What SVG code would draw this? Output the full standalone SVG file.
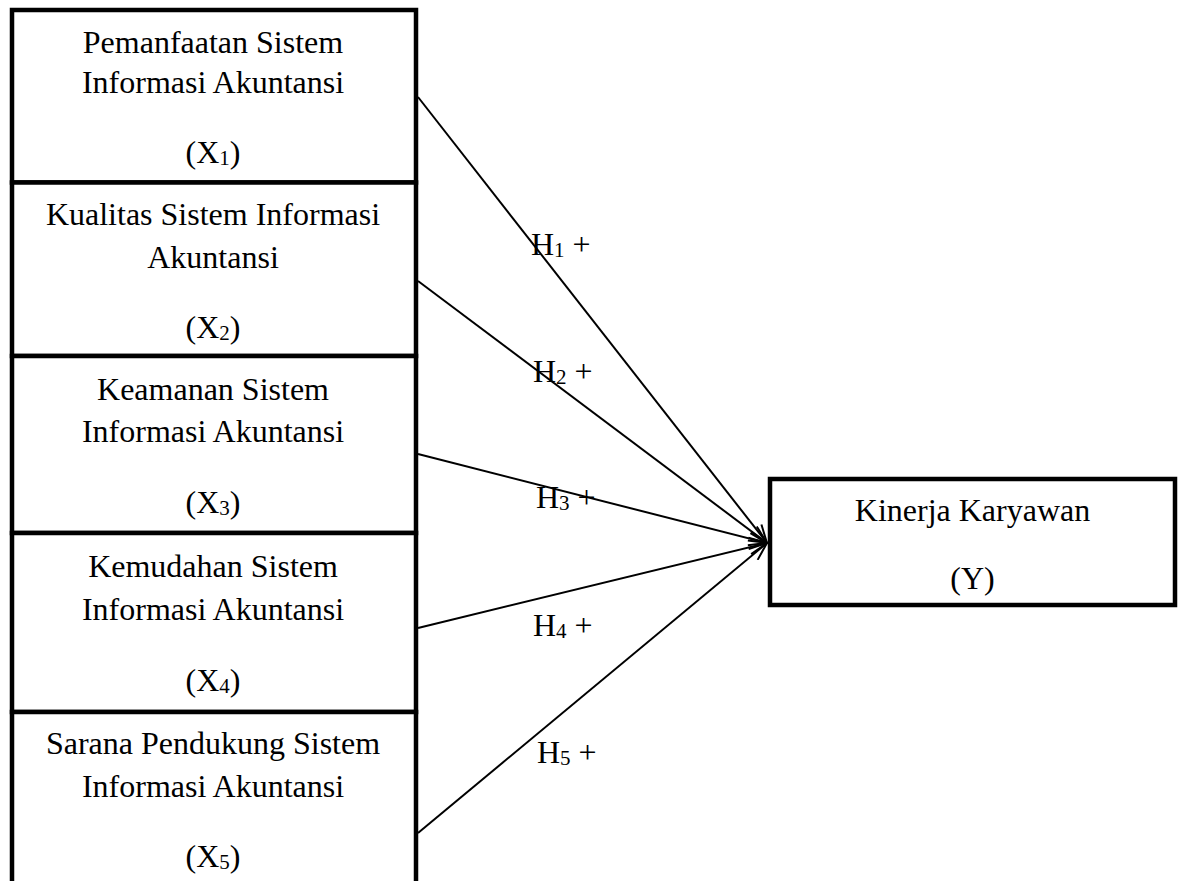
<svg xmlns="http://www.w3.org/2000/svg" width="1178" height="881" viewBox="0 0 1178 881">
  <style>
    .box { fill: #ffffff; stroke: #000000; stroke-width: 4.5; }
    .t { font-family: "Liberation Serif", "Times New Roman", serif; font-size: 32px; fill: #000000; text-anchor: middle; }
    .h { font-family: "Liberation Serif", "Times New Roman", serif; font-size: 32px; fill: #000000; }
    .sub { font-size: 21px; }
    .conn { stroke: #000000; stroke-width: 2; fill: none; marker-end: url(#arrow); }
  </style>
  <defs>
    <marker id="arrow" markerUnits="userSpaceOnUse" viewBox="0 0 20 16" markerWidth="20" markerHeight="16" refX="19" refY="8" orient="auto">
      <path d="M1,1 L19,8 L1,15" fill="none" stroke="#000000" stroke-width="2"/>
    </marker>
  </defs>
  <rect width="1178" height="881" fill="#ffffff"/>

  <g id="x1">
    <rect class="box" x="12" y="10" width="404" height="172.5"/>
    <text class="t" x="213" y="53">Pemanfaatan Sistem</text>
    <text class="t" x="213" y="93">Informasi Akuntansi</text>
    <text class="t" x="213" y="163">(X<tspan class="sub" dy="2">1</tspan><tspan dy="-2">)</tspan></text>
  </g>
  <g id="x2">
    <rect class="box" x="12" y="182.5" width="404" height="173.5"/>
    <text class="t" x="213" y="225">Kualitas Sistem Informasi</text>
    <text class="t" x="213" y="268">Akuntansi</text>
    <text class="t" x="213" y="338">(X<tspan class="sub" dy="2">2</tspan><tspan dy="-2">)</tspan></text>
  </g>
  <g id="x3">
    <rect class="box" x="12" y="356" width="404" height="177"/>
    <text class="t" x="213" y="400">Keamanan Sistem</text>
    <text class="t" x="213" y="442">Informasi Akuntansi</text>
    <text class="t" x="213" y="513">(X<tspan class="sub" dy="2">3</tspan><tspan dy="-2">)</tspan></text>
  </g>
  <g id="x4">
    <rect class="box" x="12" y="533" width="404" height="179"/>
    <text class="t" x="213" y="577">Kemudahan Sistem</text>
    <text class="t" x="213" y="620">Informasi Akuntansi</text>
    <text class="t" x="213" y="691">(X<tspan class="sub" dy="2">4</tspan><tspan dy="-2">)</tspan></text>
  </g>
  <g id="x5">
    <rect class="box" x="12" y="712" width="404" height="190"/>
    <text class="t" x="213" y="754">Sarana Pendukung Sistem</text>
    <text class="t" x="213" y="797">Informasi Akuntansi</text>
    <text class="t" x="213" y="867">(X<tspan class="sub" dy="2">5</tspan><tspan dy="-2">)</tspan></text>
  </g>
  <g id="y">
    <rect class="box" x="770" y="479" width="405" height="126"/>
    <text class="t" x="972.5" y="521">Kinerja Karyawan</text>
    <text class="t" x="972.5" y="589">(Y)</text>
  </g>

  <g id="connectors">
    <line class="conn" x1="418" y1="97" x2="767" y2="543"/>
    <line class="conn" x1="418" y1="281" x2="767" y2="543"/>
    <line class="conn" x1="418" y1="454" x2="767" y2="543"/>
    <line class="conn" x1="418" y1="628" x2="767" y2="543"/>
    <line class="conn" x1="418" y1="833" x2="767" y2="543"/>
    <text class="h" x="531" y="255">H<tspan class="sub" dy="2">1</tspan><tspan dy="-2"> +</tspan></text>
    <text class="h" x="533" y="382">H<tspan class="sub" dy="2">2</tspan><tspan dy="-2"> +</tspan></text>
    <text class="h" x="536" y="508">H<tspan class="sub" dy="2">3</tspan><tspan dy="-2"> +</tspan></text>
    <text class="h" x="533" y="636">H<tspan class="sub" dy="2">4</tspan><tspan dy="-2"> +</tspan></text>
    <text class="h" x="537" y="763">H<tspan class="sub" dy="2">5</tspan><tspan dy="-2"> +</tspan></text>
  </g>
</svg>
